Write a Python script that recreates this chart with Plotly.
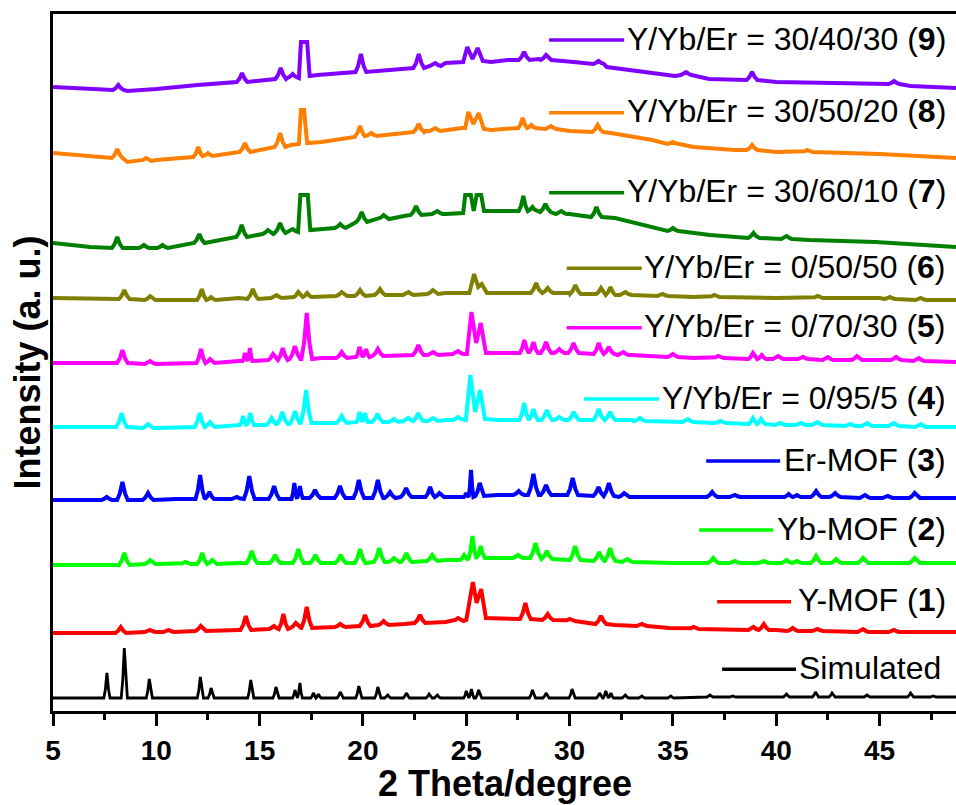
import plotly.graph_objects as go

# ---------------- data (2 theta in degrees, stacked intensity in a.u.) ----------------
NAMES = ["Simulated", "Y-MOF (<b>1</b>)", "Yb-MOF (<b>2</b>)", "Er-MOF (<b>3</b>)",
         "Y/Yb/Er = 0/95/5 (<b>4</b>)", "Y/Yb/Er = 0/70/30 (<b>5</b>)",
         "Y/Yb/Er = 0/50/50 (<b>6</b>)", "Y/Yb/Er = 30/60/10 (<b>7</b>)",
         "Y/Yb/Er = 30/50/20 (<b>8</b>)", "Y/Yb/Er = 30/40/30 (<b>9</b>)"]
COLORS = ["#000000", "#FF0000", "#00FF00", "#0000FF", "#00FFFF",
          "#FF00FF", "#808000", "#008000", "#FF8000", "#8000FF"]

# baseline / structural vertices (x, y); peaks are (position, local base, top)
sim_knots = [(5, 13), (48.7, 14)]
sim_peaks = [(7.61, 13, 38), (8.45, 13, 63), (9.66, 13, 32), (12.13, 13, 34), (12.65, 13, 23),
             (14.57, 13, 31), (15.79, 13, 24), (16.71, 13, 21), (16.95, 13, 28), (17.6, 13, 18),
             (17.85, 13, 17), (18.9, 13, 19), (19.8, 13, 25), (20.72, 13, 24), (21.2, 13, 16),
             (22.1, 13, 18), (23.2, 13, 17), (23.6, 13, 16), (25.0, 13, 20), (25.25, 13, 22),
             (25.6, 13, 21), (28.2, 13, 21), (28.86, 13, 18), (30.12, 13, 22), (31.45, 13, 18),
             (31.75, 13, 20), (32.0, 13, 18), (32.7, 13, 16), (33.5, 13, 15), (34.9, 13, 15),
             (36.8, 14, 16), (37.9, 14, 15), (40.5, 14, 17), (41.9, 14, 19), (42.7, 14, 18),
             (44.4, 14, 16), (46.5, 14, 18), (47.6, 14, 15)]

y1_knots = [(5, 78), (8, 78), (12, 80), (14, 81), (15.5, 82), (18, 83), (19, 84), (21, 86),
            (22, 87), (24, 89), (25.0, 91), (25.32, 129), (25.5, 108), (25.72, 122), (25.95, 93),
            (26.1, 93), (30, 90), (32.2, 86), (34.8, 83), (40, 81), (48.7, 79)]
y1_peaks = [(8.28, 78, 84), (9.7, 79, 81), (10.6, 79, 81), (12.15, 80, 85), (14.33, 81, 95),
            (15.7, 82, 85), (16.15, 82, 97), (16.75, 83, 88), (17.28, 83, 104), (18.9, 84, 87),
            (20.1, 85, 96), (21.0, 86, 90), (22.76, 88, 96), (24.6, 90, 93), (27.86, 92, 108),
            (28.94, 91, 97), (30.0, 90, 92), (31.52, 87, 95), (33.5, 85, 87), (36.0, 82, 84),
            (38.9, 81, 84), (39.4, 81, 87), (40.8, 80, 83), (42.0, 80, 82), (44.2, 79, 82),
            (45.7, 79, 81)]

y2_knots = [(5, 146), (10, 147), (14, 148), (20, 148), (24, 151), (26.5, 153), (28, 153),
            (30, 151), (33, 149), (35, 148), (40, 148), (48.7, 148)]
y2_peaks = [(8.45, 146, 158), (9.7, 147, 151), (11.4, 147, 149), (12.22, 147, 158), (12.7, 147, 151),
            (14.62, 148, 160), (15.75, 148, 156), (16.87, 148, 162), (17.7, 148, 156), (18.92, 148, 156),
            (19.86, 148, 162), (20.79, 149, 163), (21.5, 149, 153), (22.1, 149, 158), (23.35, 150, 156),
            (24.9, 151, 156), (25.3, 152, 175), (25.7, 153, 165), (27.5, 153, 156), (28.35, 153, 168),
            (28.9, 152, 160), (30.27, 151, 165), (31.43, 150, 159), (31.96, 150, 163), (32.8, 149, 152),
            (36.95, 148, 153), (38.0, 148, 150), (39.4, 148, 150), (40.5, 148, 151), (41.0, 148, 150),
            (41.93, 148, 155), (42.9, 148, 152), (44.2, 148, 153), (46.7, 148, 153)]

y3_knots = [(5, 211), (11, 212), (14, 212), (20, 213), (24.5, 214), (26.5, 216), (30, 216),
            (33, 214), (40, 214), (48.7, 213)]
y3_peaks = [(7.6, 211, 214), (8.36, 211, 229), (9.6, 211, 218), (12.12, 212, 236), (12.57, 212, 219),
            (13.9, 212, 214), (14.5, 212, 235), (15.7, 212, 225), (16.68, 212, 228), (16.95, 213, 225),
            (17.68, 213, 221), (18.89, 213, 225), (19.8, 213, 231), (20.72, 213, 231), (21.31, 213, 219),
            (22.09, 214, 223), (23.25, 214, 224), (23.7, 214, 218), (25.0, 214, 218), (25.23, 214, 241),
            (25.65, 215, 228), (27.54, 216, 220), (28.25, 216, 237), (28.86, 216, 226), (30.15, 216, 233),
            (31.4, 215, 224), (31.9, 215, 228), (32.64, 214, 218), (36.9, 214, 219), (38.0, 214, 216),
            (40.6, 214, 217), (41.0, 214, 216), (41.93, 214, 220), (42.85, 214, 218), (44.3, 213, 216),
            (45.4, 213, 215), (46.7, 213, 218)]

y4_knots = [(5, 284), (10, 283), (12, 284), (14, 286), (18, 288), (20, 289), (24, 291),
            (24.98, 291), (25.2, 336), (25.43, 299), (25.67, 321), (25.9, 292), (26.5, 291),
            (33, 291), (37, 288), (42, 286), (48.7, 284)]
y4_peaks = [(8.32, 284, 298), (9.6, 283, 287), (12.1, 284, 298), (12.6, 284, 289), (14.2, 285, 295),
            (14.55, 286, 298), (15.58, 286, 293), (16.1, 287, 299), (16.71, 287, 300), (17.25, 288, 321),
            (18.97, 288, 295), (19.83, 289, 299), (20.1, 289, 298), (20.7, 289, 297), (21.5, 289, 292),
            (22.2, 290, 293), (22.68, 290, 298), (23.4, 290, 293), (24.6, 291, 294), (27.8, 291, 308),
            (28.25, 291, 302), (28.9, 291, 301), (29.5, 291, 294), (30.2, 291, 299), (31.41, 291, 302),
            (31.96, 291, 299), (33.4, 290, 293), (35.72, 289, 292), (37.3, 288, 290), (38.87, 287, 293),
            (39.27, 287, 292), (40.2, 286, 288), (41.2, 286, 288), (42.0, 286, 289), (43.6, 285, 287),
            (44.4, 285, 288), (45.7, 285, 288), (47.0, 284, 287)]

y5_knots = [(5, 348), (10, 347), (12, 348), (14, 350), (16, 352), (18, 353), (20, 354), (22, 356),
            (24.5, 357), (25.03, 357), (25.25, 399), (25.48, 368), (25.7, 388), (25.95, 358),
            (26.5, 358), (29, 358), (33, 356), (36, 353), (40, 353), (45, 351), (48.7, 349)]
y5_peaks = [(8.36, 348, 361), (9.7, 347, 350), (12.16, 348, 362), (12.6, 348, 352), (14.29, 350, 358),
            (14.53, 350, 363), (15.65, 351, 357), (16.12, 351, 363), (16.71, 352, 365), (17.28, 352, 398),
            (18.97, 353, 359), (19.83, 354, 364), (20.15, 354, 362), (20.72, 355, 362), (22.68, 356, 366),
            (23.4, 356, 359), (24.6, 357, 360), (27.81, 358, 371), (28.25, 358, 369), (28.86, 358, 369),
            (29.5, 358, 362), (30.19, 358, 368), (31.41, 357, 368), (31.9, 357, 364), (32.6, 356, 359),
            (35.0, 354, 357), (37.2, 353, 355), (38.87, 352, 358), (39.3, 352, 356), (40.1, 352, 355),
            (41.3, 352, 354), (42.5, 351, 354), (43.9, 351, 355), (45.8, 351, 354), (46.9, 350, 353)]

y6_knots = [(5, 413), (10, 411), (12, 412), (14, 413), (16, 414), (20, 416), (24, 418),
            (25.15, 418), (25.38, 437), (25.58, 424), (25.75, 427), (26.0, 418), (26.5, 418),
            (30, 418), (33, 416), (36, 414), (40, 413), (45, 413), (48.7, 411)]
y6_peaks = [(8.45, 412, 421), (9.7, 411, 415), (12.2, 411, 422), (12.65, 411, 414), (14.67, 412, 422),
            (15.82, 413, 416), (16.87, 414, 419), (17.3, 414, 418), (18.97, 415, 419), (19.86, 415, 421),
            (20.82, 416, 422), (22.2, 416, 419), (23.38, 417, 421), (28.38, 418, 428), (28.94, 418, 423),
            (30.28, 417, 426), (31.52, 417, 423), (31.98, 416, 424), (32.7, 416, 419), (34.5, 415, 417),
            (37.0, 414, 416), (42.0, 413, 415), (45.5, 412, 414), (47.0, 411, 413)]

y7_knots = [(5, 468), (6.8, 464), (8.6, 463), (10, 463), (12, 468), (14, 474), (16.5, 479),
            (16.85, 480), (16.97, 516), (17.33, 516), (17.45, 481), (18, 482), (20, 489), (22, 495),
            (24, 497), (24.85, 498), (24.95, 516), (25.22, 516), (25.36, 500), (25.5, 516),
            (25.72, 516), (25.86, 500), (26.5, 500), (28, 500), (30, 497), (32.2, 493), (33.5, 486),
            (35.1, 479), (36.8, 476), (39.2, 473), (41.6, 471), (44.8, 469), (48.7, 464)]
y7_peaks = [(8.11, 463, 474), (9.4, 463, 466), (10.3, 463, 466), (12.08, 468, 477), (14.13, 474, 486),
            (15.4, 477, 481), (15.99, 478, 488), (16.6, 479, 482), (18.9, 483, 487), (19.94, 489, 499),
            (21.0, 492, 496), (22.57, 496, 505), (23.6, 497, 500), (27.76, 500, 515), (28.2, 500, 504),
            (28.83, 499, 507), (29.6, 497, 500), (31.3, 494, 504), (35.0, 480, 483), (38.9, 473, 478),
            (40.5, 472, 475)]

y8_knots = [(5, 558), (7.5, 553), (8.6, 549), (10, 551), (12, 554), (14, 559), (16.5, 566),
            (16.9, 567), (17.0, 601), (17.15, 601), (17.3, 568), (18, 569), (20, 574), (23, 580),
            (24.8, 583), (24.95, 583), (25.1, 599), (25.35, 587), (25.6, 598), (25.85, 582),
            (26.2, 581), (28, 583), (30, 580), (32, 578), (34, 571), (36, 564), (38, 561),
            (40, 559), (45, 557), (48.7, 553)]
y8_peaks = [(8.11, 553, 562), (9.5, 550, 553), (12.03, 554, 564), (12.5, 555, 558), (14.29, 559, 568),
            (15.99, 564, 578), (19.86, 574, 585), (20.4, 575, 578), (22.7, 579, 587), (23.5, 580, 583),
            (27.73, 583, 593), (28.15, 583, 586), (29.1, 582, 585), (31.36, 579, 586), (35.0, 567, 569),
            (38.83, 561, 566), (41.5, 559, 561)]

y9_knots = [(5, 624), (7.5, 622), (8.6, 620), (10, 622), (12, 626), (14, 629), (16.3, 632),
            (16.9, 633), (17.0, 669), (17.3, 669), (17.42, 635), (17.8, 636), (20, 640), (22, 643),
            (24, 648), (24.85, 649), (25.05, 664), (25.3, 652), (25.55, 663), (25.8, 650), (26.2, 649),
            (27, 651), (28.5, 652), (30.2, 649), (31.0, 648), (31.8, 644), (33.5, 639), (35.1, 635),
            (36.75, 632), (40, 629), (43.2, 628), (46.5, 625), (48.7, 623)]
y9_peaks = [(8.16, 621, 626), (14.15, 629, 638), (16.02, 632, 643), (16.6, 633, 637), (19.9, 639, 657),
            (22.7, 643, 657), (23.5, 645, 648), (27.8, 651, 659), (28.86, 651, 656), (31.4, 647, 650),
            (35.64, 636, 639), (38.83, 631, 639), (45.7, 627, 630)]

SERIES = [(sim_knots, sim_peaks), (y1_knots, y1_peaks), (y2_knots, y2_peaks), (y3_knots, y3_peaks),
          (y4_knots, y4_peaks), (y5_knots, y5_peaks), (y6_knots, y6_peaks), (y7_knots, y7_peaks),
          (y8_knots, y8_peaks), (y9_knots, y9_peaks)]

# legend placement (x in degrees, y in a.u.)
LEG_Y = [41.7, 109.3, 181, 250, 312, 383.3, 442.7, 518.3, 598.3, 671]
LEG_X0 = [37.38, 37.14, 36.27, 36.61, 30.70, 29.86, 29.86, 29.01, 29.01, 29.01]
LEG_X1 = [40.96, 40.72, 39.85, 40.19, 34.33, 33.49, 33.49, 32.64, 32.64, 32.64]
LEG_TX = [48.06, 48.32, 48.32, 48.32, 48.32, 48.32, 48.32, 48.32, 48.32, 48.32]

X_TICKS = [5, 10, 15, 20, 25, 30, 35, 40, 45]
X_MINOR = [7.5, 12.5, 17.5, 22.5, 27.5, 32.5, 37.5, 42.5, 47.5]

FONT = "Arial, Liberation Sans, sans-serif"

# peak drawing style: fraction of half-width and of height for the shoulder points
SHOULDER = (0.5, 0.35)


def vertices(knots, peaks, wmax):
    peaks = sorted(peaks)
    pos = [p[0] for p in peaks]
    pts = []
    spans = []
    for i, (x, base, top) in enumerate(peaks):
        gaps = [wmax]
        if i > 0:
            gaps.append((x - pos[i - 1]) / 2)
        if i < len(peaks) - 1:
            gaps.append((pos[i + 1] - x) / 2)
        w = min(gaps)
        spans.append((x - w, x + w))
        sf, sh = SHOULDER
        h = top - base
        pts += [(x - w, base), (x - sf * w, base + sh * h), (x, top),
                (x + sf * w, base + sh * h), (x + w, base)]
    for kx, ky in knots:
        if not any(a < kx < b for a, b in spans):
            pts.append((kx, ky))
    pts.sort(key=lambda p: p[0])
    return [p[0] for p in pts], [p[1] for p in pts]


fig = go.Figure()
for i, (knots, peaks) in enumerate(SERIES):
    w = 0.15 if i == 0 else 0.26
    xs, ys = vertices(knots, peaks, w)
    fig.add_trace(go.Scatter(x=xs, y=ys, mode="lines", name=NAMES[i], showlegend=False,
                             line=dict(color=COLORS[i], width=2.8 if i == 0 else 4)))

shapes = []
annotations = []
for i in range(len(NAMES)):
    shapes.append(dict(type="line", xref="x", yref="y", x0=LEG_X0[i], x1=LEG_X1[i],
                       y0=LEG_Y[i], y1=LEG_Y[i], line=dict(color=COLORS[i], width=3.5)))
    annotations.append(dict(x=LEG_TX[i], y=LEG_Y[i] + 1.5, xref="x", yref="y", text=NAMES[i],
                            showarrow=False, xanchor="right", yanchor="middle",
                            font=dict(family=FONT, size=32, color="black")))

annotations.append(dict(x=0.5, y=-94 / 697, xref="paper", yref="paper", text="<b>2 Theta/degree</b>",
                        showarrow=False, xanchor="center", yanchor="bottom", borderpad=0,
                        font=dict(family=FONT, size=36, color="black")))
annotations.append(dict(x=-26 / 903, y=0.5, xref="paper", yref="paper", text="<b>Intensity (a. u.)</b>",
                        showarrow=False, xanchor="center", yanchor="middle", textangle=-90,
                        font=dict(family=FONT, size=36, color="black")))

fig.update_layout(
    width=956, height=805,
    margin=dict(l=53, r=0, t=14, b=94),
    paper_bgcolor="white", plot_bgcolor="white",
    shapes=shapes, annotations=annotations,
    xaxis=dict(range=[5, 48.7], tickvals=X_TICKS, ticktext=[f"<b>{t}</b>" for t in X_TICKS],
               ticks="outside", ticklen=12, tickwidth=3, tickcolor="black",
               showline=True, linewidth=3, linecolor="black", mirror=True,
               showgrid=False, zeroline=False,
               tickfont=dict(family=FONT, size=28, color="black"),
               minor=dict(tickvals=X_MINOR, ticks="outside", ticklen=6, tickwidth=3,
                          tickcolor="black")),
    yaxis=dict(range=[0, 697], showticklabels=False, ticks="", showline=True, linewidth=3,
               linecolor="black", mirror=False, showgrid=False, zeroline=False),
)

fig.write_html("out.html")
